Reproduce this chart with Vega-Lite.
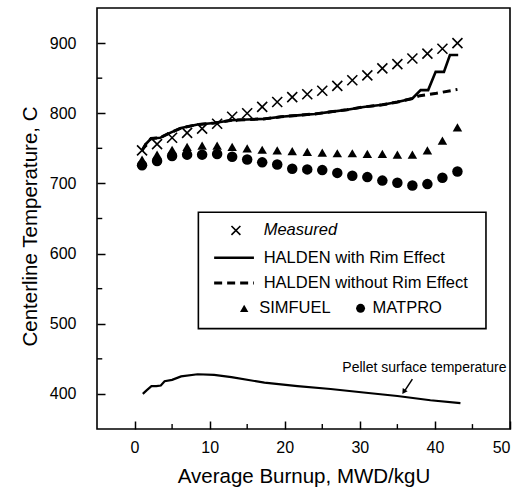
{
  "$schema": "https://vega.github.io/schema/vega-lite/v6.json",
  "width": 413,
  "height": 421,
  "autosize": {"type": "none"},
  "padding": {"left": 97, "top": 8, "right": 19, "bottom": 59},
  "background": "white",
  "config": {
    "view": {"stroke": "black", "strokeWidth": 1.6},
    "font": "Liberation Sans",
    "axis": {
      "domain": false,
      "tickColor": "black",
      "tickWidth": 1.5,
      "tickSize": 8,
      "offset": -8,
      "labelColor": "black",
      "titleColor": "black",
      "labelFont": "Liberation Sans",
      "titleFont": "Liberation Sans",
      "labelFontSize": 16,
      "titleFontSize": 20.5,
      "titleFontWeight": "normal",
      "grid": false
    }
  },
  "datasets": {
    "measured": [
      {"b": 1, "t": 747}, {"b": 3, "t": 756}, {"b": 5, "t": 765}, {"b": 7, "t": 772},
      {"b": 9, "t": 778}, {"b": 11, "t": 785}, {"b": 13, "t": 795}, {"b": 15, "t": 800},
      {"b": 17, "t": 809}, {"b": 19, "t": 816}, {"b": 21, "t": 823}, {"b": 23, "t": 827},
      {"b": 25, "t": 832}, {"b": 27, "t": 839}, {"b": 29, "t": 847}, {"b": 31, "t": 854},
      {"b": 33, "t": 864}, {"b": 35, "t": 870}, {"b": 37, "t": 878}, {"b": 39, "t": 885},
      {"b": 41, "t": 892}, {"b": 43, "t": 900}
    ],
    "simfuel": [
      {"b": 1, "t": 734}, {"b": 3, "t": 741}, {"b": 5, "t": 748}, {"b": 7, "t": 752},
      {"b": 9, "t": 754}, {"b": 11, "t": 754}, {"b": 13, "t": 752}, {"b": 15, "t": 750},
      {"b": 17, "t": 748}, {"b": 19, "t": 747}, {"b": 21, "t": 746}, {"b": 23, "t": 745},
      {"b": 25, "t": 744}, {"b": 27, "t": 743}, {"b": 29, "t": 743}, {"b": 31, "t": 742},
      {"b": 33, "t": 742}, {"b": 35, "t": 741}, {"b": 37, "t": 741}, {"b": 39, "t": 747},
      {"b": 41, "t": 761}, {"b": 43, "t": 780}
    ],
    "matpro": [
      {"b": 1, "t": 726}, {"b": 3, "t": 732}, {"b": 5, "t": 739}, {"b": 7, "t": 741},
      {"b": 9, "t": 741}, {"b": 11, "t": 742}, {"b": 13, "t": 738}, {"b": 15, "t": 734},
      {"b": 17, "t": 730}, {"b": 19, "t": 727}, {"b": 21, "t": 721}, {"b": 23, "t": 720},
      {"b": 25, "t": 719}, {"b": 27, "t": 715}, {"b": 29, "t": 711}, {"b": 31, "t": 709},
      {"b": 33, "t": 704}, {"b": 35, "t": 701}, {"b": 37, "t": 697}, {"b": 39, "t": 699},
      {"b": 41, "t": 708}, {"b": 43, "t": 717}
    ],
    "haldenRim": [
      {"b": 1, "t": 747}, {"b": 1.5, "t": 756}, {"b": 2.2, "t": 764}, {"b": 3.4, "t": 765},
      {"b": 4.5, "t": 771}, {"b": 6.2, "t": 779}, {"b": 8.4, "t": 784}, {"b": 10.6, "t": 786},
      {"b": 12.9, "t": 790}, {"b": 15, "t": 791}, {"b": 17.3, "t": 792}, {"b": 19.5, "t": 795},
      {"b": 21.7, "t": 797}, {"b": 24, "t": 799}, {"b": 26.1, "t": 802}, {"b": 28.3, "t": 805},
      {"b": 30.5, "t": 809}, {"b": 33, "t": 812}, {"b": 35, "t": 816}, {"b": 37, "t": 821},
      {"b": 38.1, "t": 833}, {"b": 39.1, "t": 833}, {"b": 40.1, "t": 859}, {"b": 41.2, "t": 859},
      {"b": 42, "t": 883}, {"b": 43.1, "t": 883}
    ],
    "haldenNoRim": [
      {"b": 1, "t": 747}, {"b": 1.5, "t": 756}, {"b": 2.2, "t": 764}, {"b": 3.4, "t": 765},
      {"b": 4.5, "t": 771}, {"b": 6.2, "t": 779}, {"b": 8.4, "t": 784}, {"b": 10.6, "t": 786},
      {"b": 12.9, "t": 790}, {"b": 15, "t": 791}, {"b": 17.3, "t": 792}, {"b": 19.5, "t": 795},
      {"b": 21.7, "t": 797}, {"b": 24, "t": 799}, {"b": 26.1, "t": 802}, {"b": 28.3, "t": 805},
      {"b": 30.5, "t": 809}, {"b": 33, "t": 812}, {"b": 35, "t": 816}, {"b": 37, "t": 821},
      {"b": 38, "t": 825}, {"b": 40, "t": 828}, {"b": 43, "t": 834}
    ],
    "pellet": [
      {"b": 1.1, "t": 400}, {"b": 1.6, "t": 405}, {"b": 2.25, "t": 411}, {"b": 2.9, "t": 411},
      {"b": 3.5, "t": 412}, {"b": 4, "t": 418}, {"b": 5, "t": 420}, {"b": 6.2, "t": 425},
      {"b": 8.4, "t": 428}, {"b": 10.6, "t": 427}, {"b": 12.9, "t": 424}, {"b": 17.3, "t": 416},
      {"b": 21.7, "t": 411}, {"b": 26.1, "t": 407}, {"b": 30.5, "t": 402}, {"b": 35, "t": 397},
      {"b": 39.4, "t": 391}, {"b": 43.4, "t": 387}
    ],
    "minorX": [{"v": 5}, {"v": 15}, {"v": 25}, {"v": 35}, {"v": 45}],
    "minorY": [{"v": 450}, {"v": 550}, {"v": 650}, {"v": 750}, {"v": 850}],
    "one": [{}]
  },
  "layer": [
    {
      "data": {"name": "haldenNoRim"},
      "mark": {"type": "line", "color": "black", "strokeWidth": 3, "strokeDash": [8, 5]},
      "encoding": {
        "x": {
          "field": "b", "type": "quantitative",
          "scale": {"domain": [-5, 50], "nice": false, "zero": false},
          "axis": {
            "title": "Average Burnup, MWD/kgU",
            "values": [0, 10, 20, 30, 40, 50],
            "labelPadding": 10,
            "titlePadding": 11
          }
        },
        "y": {
          "field": "t", "type": "quantitative",
          "scale": {"domain": [350, 950], "nice": false, "zero": false},
          "axis": {
            "title": "Centerline Temperature, C",
            "values": [400, 500, 600, 700, 800, 900],
            "labelPadding": 21,
            "titlePadding": 9,
            "titleY": 218
          }
        }
      }
    },
    {
      "data": {"name": "minorX"},
      "mark": {"type": "rule", "color": "black", "strokeWidth": 1.4},
      "encoding": {
        "x": {"field": "v", "type": "quantitative"},
        "y": {"datum": 350},
        "y2": {"datum": 357}
      }
    },
    {
      "data": {"name": "minorY"},
      "mark": {"type": "rule", "color": "black", "strokeWidth": 1.4},
      "encoding": {
        "y": {"field": "v", "type": "quantitative"},
        "x": {"datum": -5},
        "x2": {"datum": -4.3}
      }
    },
    {
      "data": {"name": "haldenRim"},
      "mark": {"type": "line", "color": "black", "strokeWidth": 2.6},
      "encoding": {
        "x": {"field": "b", "type": "quantitative"},
        "y": {"field": "t", "type": "quantitative"}
      }
    },
    {
      "data": {"name": "pellet"},
      "mark": {"type": "line", "color": "black", "strokeWidth": 2.2},
      "encoding": {
        "x": {"field": "b", "type": "quantitative"},
        "y": {"field": "t", "type": "quantitative"}
      }
    },
    {
      "data": {"name": "measured"},
      "mark": {"type": "point", "shape": "M-1,-1L1,1M-1,1L1,-1", "filled": false, "color": "black", "strokeWidth": 1.6, "size": 100, "opacity": 1},
      "encoding": {
        "x": {"field": "b", "type": "quantitative"},
        "y": {"field": "t", "type": "quantitative"}
      }
    },
    {
      "data": {"name": "matpro"},
      "mark": {"type": "point", "shape": "circle", "filled": true, "color": "black", "size": 110, "opacity": 1},
      "encoding": {
        "x": {"field": "b", "type": "quantitative"},
        "y": {"field": "t", "type": "quantitative"}
      }
    },
    {
      "data": {"name": "simfuel"},
      "mark": {"type": "point", "shape": "triangle-up", "filled": true, "color": "black", "size": 90, "opacity": 1},
      "encoding": {
        "x": {"field": "b", "type": "quantitative"},
        "y": {"field": "t", "type": "quantitative"}
      }
    },
    {
      "data": {"name": "one"},
      "mark": {"type": "text", "text": "Pellet surface temperature", "fontSize": 14, "color": "black", "align": "center", "baseline": "middle"},
      "encoding": {"x": {"datum": 38.6}, "y": {"datum": 437}}
    },
    {
      "data": {"name": "one"},
      "mark": {"type": "rule", "color": "black", "strokeWidth": 1.5},
      "encoding": {"x": {"datum": 37.0}, "y": {"datum": 421}, "x2": {"datum": 35.95}, "y2": {"datum": 404}}
    },
    {
      "data": {"name": "one"},
      "mark": {"type": "point", "shape": "triangle-up", "filled": true, "color": "black", "size": 35, "angle": 214, "opacity": 1},
      "encoding": {"x": {"datum": 35.85}, "y": {"datum": 403}}
    },
    {
      "data": {"name": "one"},
      "mark": {"type": "rect", "fill": "white", "fillOpacity": 0, "stroke": "black", "strokeWidth": 1.6},
      "encoding": {"x": {"datum": 8.5}, "x2": {"datum": 46.8}, "y": {"datum": 659}, "y2": {"datum": 493}}
    },
    {
      "data": {"name": "one"},
      "mark": {"type": "point", "shape": "M-1,-1L1,1M-1,1L1,-1", "filled": false, "color": "black", "strokeWidth": 1.6, "size": 80, "opacity": 1},
      "encoding": {"x": {"datum": 13.5}, "y": {"datum": 633}}
    },
    {
      "data": {"name": "one"},
      "mark": {"type": "text", "text": "Measured", "fontSize": 16.5, "fontStyle": "italic", "color": "black", "align": "left", "baseline": "middle"},
      "encoding": {"x": {"datum": 17.2}, "y": {"datum": 633}}
    },
    {
      "data": {"name": "one"},
      "mark": {"type": "rule", "color": "black", "strokeWidth": 2.6},
      "encoding": {"x": {"datum": 10.6}, "x2": {"datum": 15.9}, "y": {"datum": 594}}
    },
    {
      "data": {"name": "one"},
      "mark": {"type": "text", "text": "HALDEN with Rim Effect", "fontSize": 16.5, "color": "black", "align": "left", "baseline": "middle"},
      "encoding": {"x": {"datum": 17.2}, "y": {"datum": 594}}
    },
    {
      "data": {"name": "one"},
      "mark": {"type": "rule", "color": "black", "strokeWidth": 3, "strokeDash": [8, 5]},
      "encoding": {"x": {"datum": 10.6}, "x2": {"datum": 15.9}, "y": {"datum": 558}}
    },
    {
      "data": {"name": "one"},
      "mark": {"type": "text", "text": "HALDEN without Rim Effect", "fontSize": 16.5, "color": "black", "align": "left", "baseline": "middle"},
      "encoding": {"x": {"datum": 17.2}, "y": {"datum": 558}}
    },
    {
      "data": {"name": "one"},
      "mark": {"type": "point", "shape": "triangle-up", "filled": true, "color": "black", "size": 70, "opacity": 1},
      "encoding": {"x": {"datum": 14.6}, "y": {"datum": 522}}
    },
    {
      "data": {"name": "one"},
      "mark": {"type": "text", "text": "SIMFUEL", "fontSize": 16.5, "color": "black", "align": "left", "baseline": "middle"},
      "encoding": {"x": {"datum": 16.6}, "y": {"datum": 522}}
    },
    {
      "data": {"name": "one"},
      "mark": {"type": "point", "shape": "circle", "filled": true, "color": "black", "size": 80, "opacity": 1},
      "encoding": {"x": {"datum": 30.1}, "y": {"datum": 522}}
    },
    {
      "data": {"name": "one"},
      "mark": {"type": "text", "text": "MATPRO", "fontSize": 16.5, "color": "black", "align": "left", "baseline": "middle"},
      "encoding": {"x": {"datum": 31.7}, "y": {"datum": 522}}
    }
  ]
}
